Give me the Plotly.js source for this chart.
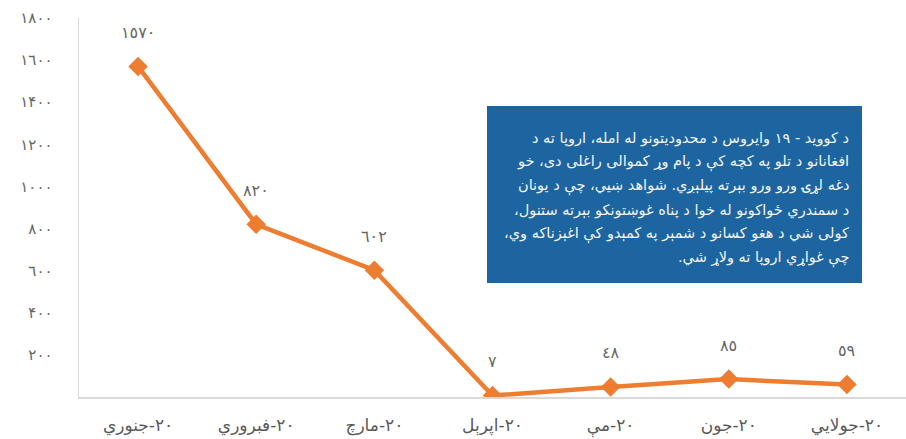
<!DOCTYPE html>
<html>
<head>
<meta charset="utf-8">
<script src="https://cdn.plot.ly/plotly-3.0.1.min.js"></script>
<style>
  html, body { margin: 0; padding: 0; background: #fff; }
  #chart { width: 906px; height: 439px; }
</style>
</head>
<body>
<div id="chart"></div>
<script>
const months = ['٢٠-جنوري', '٢٠-فبروري', '٢٠-مارچ', '٢٠-اپرېل', '٢٠-مې', '٢٠-جون', '٢٠-جولايي'];
const arrivals = [1570, 820, 602, 7, 48, 85, 59];
const arrivalLabels = ['١٥٧٠', '٨٢٠', '٦٠٢', '٧', '٤٨', '٨٥', '٥٩'];
const yTicks = [200, 400, 600, 800, 1000, 1200, 1400, 1600, 1800];
const yTickText = ['٢٠٠', '۴٠٠', '٦٠٠', '٨٠٠', '١٠٠٠', '١٢٠٠', '١۴٠٠', '١٦٠٠', '١٨٠٠'];
const noteLines = [
  'د کووید - ۱۹ وایروس د محدودیتونو له امله، اروپا ته د',
  'افغانانو د تلو په کچه کې د پام وړ کموالی راغلی دی، خو',
  'دغه لړۍ ورو ورو بېرته پیلېږي. شواهد ښیي، چې د یونان',
  'د سمندري ځواکونو له خوا د پناه غوښتونکو بېرته ستنول،',
  'کولی شي د هغو کسانو د شمېر په کمېدو کې اغېزناکه وي،',
  'چې غواړي اروپا ته ولاړ شي.'
];

const RLM = '\u200F';
const FONT = 'DejaVu Sans, Noto Sans, sans-serif';

// plot area in px: x 79..906, y 18..397
const PLOT_H = 379;
const toPaperY = px => (397 - px) / PLOT_H;

const labelNotes = months.map((m, i) => ({
  x: m, y: arrivals[i], xref: 'x', yref: 'y',
  text: arrivalLabels[i], showarrow: false,
  yanchor: 'middle', yshift: 34,
  font: { family: FONT, size: 16, color: '#666666' },
}));

// note box: one annotation per line so the line spacing can follow the original
const noteNotes = noteLines.map((l, i) => ({
  xref: 'paper', yref: 'paper',
  x: (851 - 79) / 827, y: toPaperY(138 + i * 24),
  xanchor: 'right', yanchor: 'middle', showarrow: false,
  text: RLM + l + RLM,
  font: { family: FONT, size: 14.5, color: '#f4f4f4' },
}));

Plotly.newPlot('chart', [{
  x: months, y: arrivals,
  type: 'scatter', mode: 'lines+markers',
  line: { color: '#ed7d31', width: 4.5 },
  marker: { symbol: 'diamond', size: 15, color: '#ed7d31' },
  hoverinfo: 'skip',
}], {
  width: 906, height: 439,
  margin: { l: 79, r: 0, t: 18, b: 42 },
  paper_bgcolor: '#fff', plot_bgcolor: '#fff',
  showlegend: false,
  xaxis: {
    type: 'category', showgrid: false, zeroline: false,
    showline: true, linecolor: '#d9d9d9', linewidth: 1.5,
    ticks: '', ticklabelstandoff: 12,
    tickfont: { family: FONT, size: 17, color: '#595959' },
    range: [-0.5, 6.5],
  },
  yaxis: {
    range: [0, 1800], showgrid: false, zeroline: false,
    showline: true, linecolor: '#d9d9d9', linewidth: 1.5,
    tickvals: yTicks, ticktext: yTickText, ticks: '',
    ticklabelstandoff: 22,
    tickfont: { family: FONT, size: 15, color: '#666666' },
  },
  shapes: [{
    type: 'rect', xref: 'paper', yref: 'paper', layer: 'above',
    x0: (487 - 79) / 827, x1: (862 - 79) / 827,
    y0: toPaperY(283), y1: toPaperY(106),
    fillcolor: '#1c65a1', line: { width: 0 },
  }],
  annotations: [...labelNotes, ...noteNotes],
}, { displayModeBar: false, staticPlot: true });
</script>
</body>
</html>
